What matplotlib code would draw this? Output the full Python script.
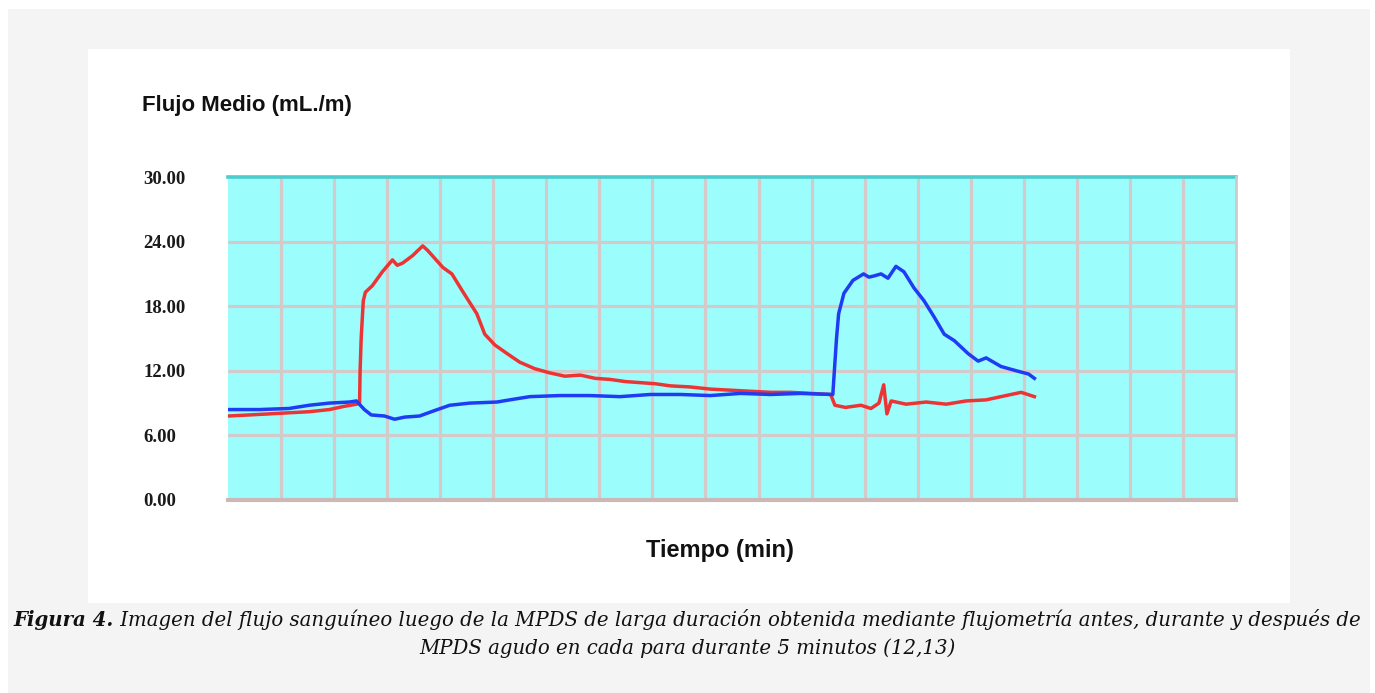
import matplotlib
matplotlib.use("Agg")
import matplotlib.pyplot as plt
from matplotlib.patches import Rectangle

# time in grid units (19 grid cells across), flow in mL/min
red_t = [0.0, 0.4, 0.78, 1.15, 1.53, 1.91, 2.19, 2.42, 2.48, 2.49, 2.51, 2.55, 2.59,
         2.72, 2.91, 3.10, 3.19, 3.29, 3.48, 3.67, 3.76, 4.05, 4.22, 4.42, 4.69, 4.84,
         5.03, 5.26, 5.50, 5.78, 6.07, 6.35, 6.64, 6.92, 7.20, 7.49, 7.77, 8.05, 8.34,
         8.71, 9.09, 9.47, 9.85, 10.23, 10.60, 10.98, 11.36, 11.44, 11.64, 11.93, 12.12,
         12.27, 12.36, 12.42, 12.50, 12.78, 13.16, 13.54, 13.91, 14.29, 14.57, 14.76,
         14.95, 15.20]
red_v = [7.8, 7.9, 8.0, 8.1, 8.2, 8.4, 8.7, 8.9, 9.0, 12.0, 15.0, 18.5, 19.3,
         19.9, 21.2, 22.3, 21.8, 22.0, 22.7, 23.6, 23.2, 21.6, 21.0, 19.4, 17.3, 15.4,
         14.4, 13.6, 12.8, 12.2, 11.8, 11.5, 11.6, 11.3, 11.2, 11.0, 10.9, 10.8, 10.6,
         10.5, 10.3, 10.2, 10.1, 10.0, 10.0, 9.9, 9.8, 8.8, 8.6, 8.8, 8.5,
         9.0, 10.7, 8.0, 9.2, 8.9, 9.1, 8.9, 9.2, 9.3, 9.6, 9.8,
         10.0, 9.6]

blue_t = [0.0, 0.59, 1.15, 1.53, 1.91, 2.29, 2.42, 2.57, 2.70, 2.95, 3.14, 3.33, 3.61,
          3.89, 4.18, 4.56, 5.07, 5.31, 5.69, 6.26, 6.82, 7.39, 7.96, 8.53, 9.09, 9.66,
          10.23, 10.79, 11.40, 11.47, 11.51, 11.61, 11.78, 11.98, 12.08, 12.17, 12.31,
          12.44, 12.59, 12.74, 12.93, 13.12, 13.31, 13.50, 13.69, 13.95, 14.14, 14.29,
          14.57, 14.86, 15.09, 15.20]
blue_v = [8.4, 8.4, 8.5, 8.8, 9.0, 9.1, 9.2, 8.4, 7.9, 7.8, 7.5, 7.7, 7.8,
          8.3, 8.8, 9.0, 9.1, 9.3, 9.6, 9.7, 9.7, 9.6, 9.8, 9.8, 9.7, 9.9,
          9.8, 9.9, 9.8, 15.0, 17.3, 19.2, 20.4, 21.0, 20.7, 20.8, 21.0,
          20.6, 21.7, 21.2, 19.7, 18.5, 17.0, 15.4, 14.8, 13.6, 12.9, 13.2,
          12.4, 12.0, 11.7, 11.3]

y_ticks = [0, 6, 12, 18, 24, 30]
y_labels = ["0.00", "6.00", "12.00", "18.00", "24.00", "30.00"]

W, H = 1375, 693
fig = plt.figure(figsize=(W / 100, H / 100), dpi=100, facecolor="white")

# page background and white panel
fig.patches.append(Rectangle((8 / W, 0), 1362 / W, 1 - 9 / H, transform=fig.transFigure,
                             facecolor="#f4f4f4", edgecolor="none", zorder=-3))
fig.patches.append(Rectangle((88 / W, 1 - 603 / H), 1202 / W, 554 / H, transform=fig.transFigure,
                             facecolor="white", edgecolor="none", zorder=-2))

ax = fig.add_axes([228 / W, 1 - 500 / H, 1008 / W, 323 / H])
ax.set_facecolor("#9cfdfd")
ax.set_xlim(0, 19)
ax.set_ylim(0, 30)

grid_c = "#d4caca"
for gx in range(1, 19):
    ax.axvline(gx, color=grid_c, lw=2.3, zorder=1)
for gy in y_ticks[1:-1]:
    ax.axhline(gy, color=grid_c, lw=2.3, zorder=1)

ax.plot(red_t, red_v, color="#ec3434", lw=2.5, zorder=3)
ax.plot(blue_t, blue_v, color="#1f3cf5", lw=2.5, zorder=4)

for s in ax.spines.values():
    s.set_visible(False)
ax.axhline(30, color="#4ccccc", lw=2.6, zorder=5, clip_on=False)
ax.axvline(19, color="#cfcaca", lw=2.0, zorder=5, clip_on=False)
ax.axhline(0, color="#cdb8b8", lw=3.0, zorder=5, clip_on=False)

ax.set_xticks([])
ax.set_yticks(y_ticks)
ax.set_yticklabels(y_labels, fontfamily="Liberation Serif", fontsize=13.5,
                   fontweight="bold", color="#1a1a1a")
ax.tick_params(axis="y", length=0, pad=61)
for lab in ax.get_yticklabels():
    lab.set_horizontalalignment("left")

fig.text(142 / W, 1 - 105 / H, "Flujo Medio (mL./m)", fontfamily="Liberation Sans",
         fontweight="bold", fontsize=16, ha="left", va="center", color="#111111")
fig.text(720 / W, 1 - 550 / H, "Tiempo (min)", fontfamily="Liberation Sans",
         fontweight="bold", fontsize=17, ha="center", va="center", color="#111111")

# caption: bold italic lead followed by italic text, centred
cap_size = 14.25
lead = fig.text(0, 1 - 620 / H, "Figura 4.", fontfamily="DejaVu Serif", style="italic",
                fontweight="bold", fontsize=cap_size, ha="left", va="center", color="#111111")
rest = fig.text(0, 1 - 620 / H,
                " Imagen del flujo sanguíneo luego de la MPDS de larga duración obtenida mediante "
                "flujometría antes, durante y después de",
                fontfamily="DejaVu Serif", style="italic", fontsize=cap_size,
                ha="left", va="center", color="#111111")
r = fig.canvas.get_renderer()
w1 = lead.get_window_extent(r).width
w2 = rest.get_window_extent(r).width
x0 = 687 - (w1 + w2) / 2
lead.set_x(x0 / W)
rest.set_x((x0 + w1) / W)
fig.text(687 / W, 1 - 648 / H, "MPDS agudo en cada para durante 5 minutos (12,13)",
         fontfamily="DejaVu Serif", style="italic", fontsize=cap_size,
         ha="center", va="center", color="#111111")

fig.savefig("out.png", dpi=100, facecolor=fig.get_facecolor())
